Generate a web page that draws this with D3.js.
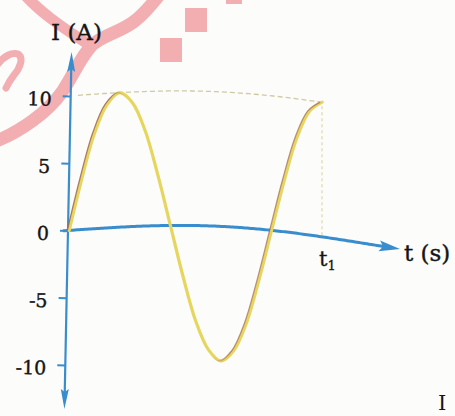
<!DOCTYPE html>
<html>
<head>
<meta charset="utf-8">
<script src="https://cdn.jsdelivr.net/npm/d3@7"></script>
<style>
  html, body { margin: 0; padding: 0; background: #fcfcfa; }
  svg { display: block; }
</style>
</head>
<body>
<svg id="chart" width="455" height="416"></svg>
<script>
// Alternating current, sampled every 1/16 of a period from t = 0 up to t1
const timeSteps = [0, 1, 2, 3, 4, 5, 6, 7, 8, 9, 10, 11, 12, 13, 14, 15, 16, 17, 18, 19, 20];
const currentA  = [0, 3.8, 7.1, 9.2, 10, 9.2, 7.1, 3.8, 0, -3.8, -7.1, -9.2, -10, -9.2, -7.1, -3.8, 0, 3.8, 7.1, 9.2, 10];
const currentTicks = [10, 5, 0, -5, -10];
const peakCurrent = 10;
const t1Step = 20;
const yTitle = "I (A)";
const xTitle = "t (s)";

const svg = d3.select("#chart");
const samples = timeSteps.map((t, i) => ({ t, v: currentA[i] }));

const x = d3.scaleLinear().domain([0, t1Step]).range([68, 321]);
const y = d3.scaleLinear().domain([-10, 10]).range([365, 96]);

// the printed page is slightly curved: vertical offset that grows along the time axis
const bend = px => 0.045 * (px - 68) - 11 * Math.sin(Math.PI * (px - 68) / 300);
const bendSlope = px => 0.045 - 11 * Math.PI / 300 * Math.cos(Math.PI * (px - 68) / 300);

const blue = "#3a8dcc";
const serif = "'DejaVu Serif', 'Liberation Serif', serif";

// --- pink stamp in the upper-left corner ---
const stamp = svg.append("g").attr("fill", "none").attr("stroke", "#f3aeb2").attr("stroke-linecap", "round");
stamp.append("path")
  .attr("d", "M-6,142 C20,132 48,112 62,92 C74,74 80,58 92,45 C104,34 122,32 136,20 C146,12 152,4 160,-6")
  .attr("stroke-width", 13);
stamp.append("path")
  .attr("d", "M24,-6 C40,12 60,26 88,44")
  .attr("stroke-width", 11);
stamp.append("path")
  .attr("d", "M-2,64 C4,56 12,52 18,54 C24,58 20,68 14,75 C10,80 8,84 6,88")
  .attr("stroke-width", 7);
svg.append("g").attr("fill", "#f3aeb2")
  .selectAll("rect")
  .data([[185, 8, 22, 24], [160, 38, 22, 24], [226, -10, 16, 14]])
  .join("rect")
  .attr("x", d => d[0]).attr("y", d => d[1]).attr("width", d => d[2]).attr("height", d => d[3]);

// --- guide lines at the peak current and at t1 ---
const guide = d3.line().x(d => d[0]).y(d => d[1]);
const topGuide = d3.range(78, x(t1Step) + 1, 3).map(px => [px, y(peakCurrent) + bend(px)]);
svg.append("path")
  .attr("d", guide(topGuide))
  .attr("fill", "none")
  .attr("stroke", "#cfc9a4")
  .attr("stroke-width", 1.3)
  .attr("stroke-dasharray", "5,3");
svg.append("line")
  .attr("x1", x(t1Step) + 1).attr("x2", x(t1Step) + 1)
  .attr("y1", y(peakCurrent) + bend(x(t1Step)) + 4)
  .attr("y2", y(0) + bend(x(t1Step)))
  .attr("stroke", "#d9d59c")
  .attr("stroke-width", 1.1)
  .attr("stroke-dasharray", "3,3");

// --- time axis with arrow ---
const xAxisPts = d3.range(63, 393, 2).map(px => [px, y(0) + bend(px)]);
svg.append("path")
  .attr("d", guide(xAxisPts))
  .attr("fill", "none")
  .attr("stroke", blue)
  .attr("stroke-width", 3);
const tipX = 400;
const tipAngle = Math.atan(bendSlope(tipX)) * 180 / Math.PI;
svg.append("path")
  .attr("d", "M0,0 L-21,-5.5 L-17,0 L-21,5.5 Z")
  .attr("fill", blue)
  .attr("transform", `translate(${tipX},${y(0) + bend(tipX)}) rotate(${tipAngle})`);

// --- current axis, leaning a little to the right ---
const yAxisG = svg.append("g").attr("transform", "rotate(1.15,68,230)");
const yAxis = yAxisG.append("g")
  .attr("transform", "translate(68,0)")
  .call(d3.axisLeft(y)
    .tickValues(currentTicks)
    .tickFormat(d => String(d))
    .tickSize(8)
    .tickSizeOuter(0)
    .tickPadding(11));
yAxis.select(".domain").remove();
yAxis.selectAll(".tick line").attr("stroke", blue).attr("stroke-width", 2);
yAxis.selectAll(".tick text")
  .attr("font-family", serif)
  .attr("font-size", 19)
  .attr("fill", "#151515")
  .attr("stroke", "#151515")
  .attr("stroke-width", 0.4)
  .attr("dy", "0.5em");
yAxisG.append("line")
  .attr("x1", 68).attr("x2", 68).attr("y1", 64).attr("y2", 398)
  .attr("stroke", blue).attr("stroke-width", 2.2);
yAxisG.append("path")
  .attr("d", "M68,52 L72,72 L68,69 L64,72 Z")
  .attr("fill", blue);
yAxisG.append("path")
  .attr("d", "M68,409 L72,389 L68,392 L64,389 Z")
  .attr("fill", blue);

// --- the current curve: yellow ink with a darker edge on the rising parts ---
const curveLine = d3.line()
  .x(d => x(d.t))
  .y(d => y(d.v) + bend(x(d.t)))
  .curve(d3.curveCatmullRom);

const grad = svg.append("defs").append("linearGradient")
  .attr("id", "risingEdge")
  .attr("gradientUnits", "userSpaceOnUse")
  .attr("x1", x(0)).attr("x2", x(t1Step)).attr("y1", 0).attr("y2", 0);
const frac = t => t / t1Step;
[[0, 0.9], [3.4, 0.9], [4.6, 0], [11.4, 0], [12.8, 0.75], [20, 0.75]].forEach(([t, o]) => {
  grad.append("stop").attr("offset", frac(t)).attr("stop-color", "#a46d5a").attr("stop-opacity", o);
});

svg.append("path")
  .attr("d", curveLine(samples))
  .attr("fill", "none")
  .attr("stroke", "#e6d65e")
  .attr("stroke-width", 3.2)
  .attr("stroke-linecap", "round")
  .attr("transform", "translate(1.2,0)");
svg.append("path")
  .attr("d", curveLine(samples))
  .attr("fill", "none")
  .attr("stroke", "url(#risingEdge)")
  .attr("stroke-width", 1.3)
  .attr("transform", "translate(-0.7,0)");

// --- titles ---
svg.append("text")
  .attr("x", 51).attr("y", 40)
  .attr("font-family", serif).attr("font-size", 23)
  .attr("fill", "#151515").attr("stroke", "#151515").attr("stroke-width", 0.4)
  .text(yTitle);
svg.append("text")
  .attr("x", 404).attr("y", 261)
  .attr("font-family", serif).attr("font-size", 23)
  .attr("fill", "#151515").attr("stroke", "#151515").attr("stroke-width", 0.4)
  .text(xTitle);

const t1Label = svg.append("text")
  .attr("x", x(t1Step) - 2).attr("y", 266)
  .attr("font-family", serif).attr("font-size", 21)
  .attr("fill", "#151515").attr("stroke", "#151515").attr("stroke-width", 0.3);
t1Label.append("tspan").text("t");
t1Label.append("tspan").attr("font-size", 13).attr("dy", 4).text("1");

// fragment of the next line of text on the page
svg.append("text")
  .attr("x", 438).attr("y", 410)
  .attr("font-family", serif).attr("font-size", 21)
  .attr("fill", "#151515")
  .text("I");
</script>
</body>
</html>
